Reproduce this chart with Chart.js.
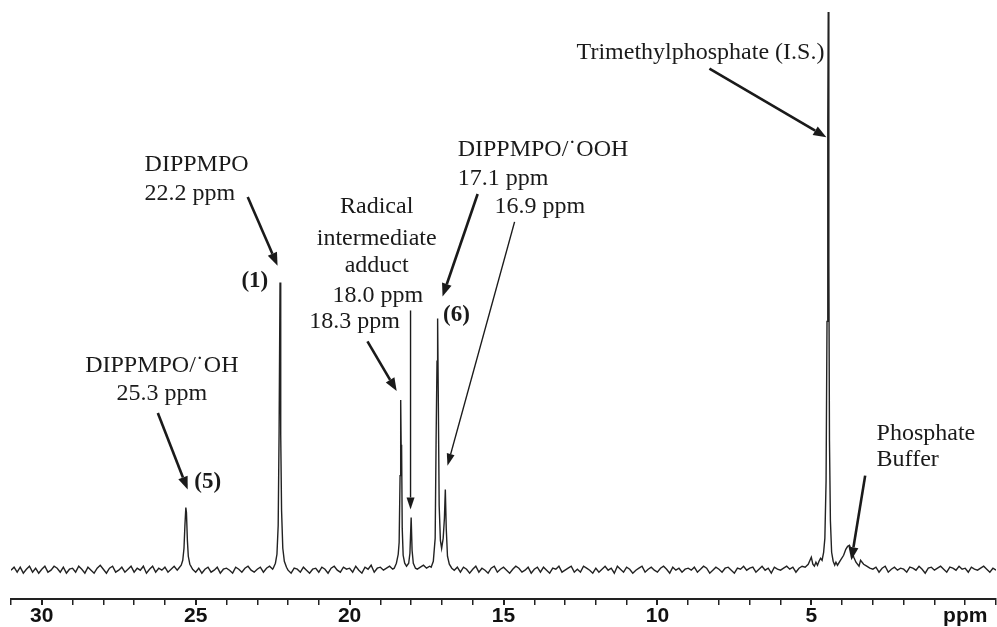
<!DOCTYPE html>
<html>
<head>
<meta charset="utf-8">
<script src="https://cdn.jsdelivr.net/npm/chart.js@4.4.1/dist/chart.umd.min.js"></script>
<style>
  html, body { margin: 0; padding: 0; background: #fff; }
  #wrap { width: 997px; height: 627px; position: relative; }
</style>
</head>
<body>
<div id="wrap"><canvas id="nmrChart"></canvas></div>
<script>
// 31P NMR spectrum, chemical shift in ppm, intensity in arbitrary units (baseline = 0)

// baseline noise, one value every 0.1 ppm from 31.0 down to -1.0 ppm
const noiseStart = 31.0;
const noiseStep = 0.1;
const noise = [
    0, 3, -2, 3, -3, 1, 4, -2, 2, -3,
    1, 4, -2, 0, 4, 2, -2, 3, -3, 1,
    2, -2, 4, 1, -3, 3, 0, -3, 2, 5,
    1, -3, 2, 4, -2, 0, 3, -2, 1, 4,
    -2, 2, 0, 4, -3, 1, 4, -2, 2, 0,
    3, -2, 1, 4, 0, 2, 5, 3, 2, 1,
    -2, 2, -3, 1, 3, -2, 0, 3, -3, 1,
    2, 0, -3, 3, 1, -2, 2, 4, 0, -2,
    1, 3, -2, 2, 4, 1, 3, 5, 4, 2,
    0, -3, 2, 1, -2, 3, 0, -3, 1, 2,
    -2, 3, 1, -3, 2, 4, 0, -2, 3, 1,
    2, -2, 4, 0, -3, 3, 1, 5, -2, 2,
    3, 0, 2, 4, 1, -2, 3, 2, 4, 3,
    2, 4, 1, 3, 5, 2, 4, 3, 4, 2,
    2, 3, 1, 4, 0, 3, -2, 3, 1, -3,
    1, 4, -2, 2, 0, -3, 2, 4, -2, 1,
    3, 0, -3, 1, 4, 2, -2, 0, 3, -3,
    1, 3, -2, 3, 0, -3, 2, 1, 4, -2,
    0, 2, 4, -2, 1, -2, 4, 2, 0, -3,
    2, -2, 1, 4, 0, 2, -3, 4, 1, -2,
    3, 1, -3, 0, 2, 4, -2, 1, 3, 0,
    -2, 2, 4, 1, -3, 3, 0, 2, -2, 1,
    2, 0, 3, -2, 1, 4, 2, -3, 0, 3,
    1, -2, 2, 3, 0, -3, 2, 1, 4, 0,
    2, 3, -2, 1, 4, 0, 2, -3, 3, 1,
    0, 2, 4, 1, 3, -2, 2, 4, 3, 6,
    13, 6, 8, 5, 9, 12, 10, 18, 40, 20,
    10, 14, 18, 20, 19, 15, 10, 6, 4, 2,
    1, 3, -2, 2, 4, -2, 1, 3, 0, 2,
    1, -2, 3, 2, 0, 4, 1, -3, 2, 3,
    0, 2, 4, 1, -2, 3, 2, 0, 4, 1,
    2, -2, 3, 1, 0, 2, 4, 1, -2, 2, 0
];

// resonances: [ppm, intensity]
const peakOH = [
    [25.55, 2], [25.47, 5], [25.42, 10], [25.38, 22], [25.35, 45], [25.32, 63],
    [25.30, 58], [25.27, 30], [25.24, 14], [25.19, 6], [25.12, 2]
];
const peakDIPPMPO = [
    [22.48, 2], [22.41, 7], [22.36, 16], [22.32, 45], [22.29, 140], [22.26, 289],
    [22.245, 141], [22.23, 136], [22.21, 60], [22.17, 22], [22.12, 9], [22.05, 3]
];
const peakRadical = [
    [18.55, 2], [18.48, 7], [18.42, 16], [18.39, 28], [18.36, 95], [18.34, 171],
    [18.325, 126], [18.31, 122], [18.29, 42], [18.26, 15], [18.21, 7], [18.15, 4],
    [18.08, 7], [18.04, 17], [18.00, 53], [17.97, 20], [17.93, 7], [17.86, 2]
];
const peakOOH = [
    [17.35, 3], [17.28, 9], [17.22, 32], [17.19, 130], [17.16, 210], [17.14, 253],
    [17.12, 180], [17.09, 65], [17.05, 30], [17.01, 22], [16.96, 32], [16.92, 52],
    [16.89, 81], [16.86, 42], [16.82, 14], [16.76, 6], [16.68, 2]
];
const peakTMP = [
    [4.95, 6], [4.90, 4], [4.85, 8], [4.80, 5], [4.75, 9], [4.70, 12], [4.65, 10],
    [4.60, 18], [4.56, 32], [4.52, 90], [4.49, 250], [4.47, 311], [4.46, 450],
    [4.45, 561], [4.43, 310], [4.41, 130], [4.38, 50], [4.34, 18], [4.29, 9],
    [4.24, 5], [4.20, 8], [4.15, 5], [4.05, 10], [3.95, 15], [3.88, 21], [3.82, 24],
    [3.76, 25], [3.70, 20], [3.62, 13], [3.55, 8], [3.45, 4]
];
const peaks = [peakOH, peakDIPPMPO, peakRadical, peakOOH, peakTMP];

// axis ticks: labelled every 5 ppm, unit label at 0
const majorTicks = [30, 25, 20, 15, 10, 5];

// annotations, placed in data units [ppm, intensity]
const notes = [
    { text: 'DIPPMPO/\u02D9OH', at: [26.1, 205], align: 'center' },
    { text: '25.3 ppm', at: [26.1, 177], align: 'center' },
    { text: '(5)', at: [24.61, 89], align: 'center', bold: true },
    { text: 'DIPPMPO', at: [26.66, 407], align: 'left' },
    { text: '22.2 ppm', at: [26.66, 378], align: 'left' },
    { text: '(1)', at: [23.08, 291], align: 'center', bold: true },
    { text: 'Radical', at: [19.12, 365], align: 'center' },
    { text: 'intermediate', at: [19.12, 333], align: 'center' },
    { text: 'adduct', at: [19.12, 306], align: 'center' },
    { text: '18.0 ppm', at: [19.08, 276], align: 'center' },
    { text: '18.3 ppm', at: [19.84, 250], align: 'center' },
    { text: '(6)', at: [16.53, 256], align: 'center', bold: true },
    { text: 'DIPPMPO/\u02D9OOH', at: [16.49, 423], align: 'left' },
    { text: '17.1 ppm', at: [16.49, 393], align: 'left' },
    { text: '16.9 ppm', at: [15.29, 365], align: 'left' },
    { text: 'Trimethylphosphate (I.S.)', at: [8.60, 520], align: 'center' },
    { text: 'Phosphate', at: [2.88, 137], align: 'left' },
    { text: 'Buffer', at: [2.88, 111], align: 'left' }
];
const arrows = [
    { from: [26.23, 158], to: [25.26, 81], thin: false },
    { from: [23.31, 375], to: [22.34, 306], thin: false },
    { from: [19.42, 230], to: [18.47, 180], thin: false },
    { from: [18.02, 261], to: [18.02, 61], thin: true },
    { from: [15.84, 378], to: [16.98, 275], thin: false },
    { from: [14.64, 350], to: [16.82, 105], thin: true },
    { from: [8.31, 504], to: [4.51, 435], thin: false },
    { from: [3.25, 95], to: [3.70, 10], thin: false }
];

// merge baseline noise with the resonances
function buildSpectrum() {
    const windows = peaks.map(p => [p[p.length - 1][0], p[0][0]]);
    const pts = [];
    noise.forEach((v, i) => {
        const x = +(noiseStart - i * noiseStep).toFixed(2);
        const inside = windows.some(w => x >= w[0] && x <= w[1]);
        if (!inside) pts.push({ x: x, y: v });
    });
    peaks.forEach(p => p.forEach(d => pts.push({ x: d[0], y: d[1] })));
    pts.sort((a, b) => b.x - a.x);
    return pts;
}

function drawArrow(c, x1, y1, x2, y2, thin) {
    const ang = Math.atan2(y2 - y1, x2 - x1);
    const headLen = thin ? 12 : 13;
    const headW = thin ? 4 : 5;
    const bx = x2 - headLen * Math.cos(ang);
    const by = y2 - headLen * Math.sin(ang);
    c.beginPath();
    c.moveTo(x1, y1);
    c.lineTo(bx, by);
    c.lineWidth = thin ? 1.4 : 2.6;
    c.stroke();
    c.beginPath();
    c.moveTo(x2, y2);
    c.lineTo(bx + headW * Math.sin(ang), by - headW * Math.cos(ang));
    c.lineTo(bx - headW * Math.sin(ang), by + headW * Math.cos(ang));
    c.closePath();
    c.fill();
}

const annotationPlugin = {
    id: 'nmrNotes',
    afterDraw(chart) {
        const c = chart.ctx;
        const xs = chart.scales.x;
        const ys = chart.scales.y;
        c.save();
        c.fillStyle = '#1a1a1a';
        c.strokeStyle = '#1a1a1a';
        c.textBaseline = 'middle';
        notes.forEach(n => {
            c.font = n.bold ? 'bold 23px "Liberation Serif", "Times New Roman", serif'
                            : '24px "Liberation Serif", "Times New Roman", serif';
            c.textAlign = n.align;
            c.fillText(n.text, xs.getPixelForValue(n.at[0]), ys.getPixelForValue(n.at[1]));
        });
        arrows.forEach(a => {
            drawArrow(c,
                xs.getPixelForValue(a.from[0]), ys.getPixelForValue(a.from[1]),
                xs.getPixelForValue(a.to[0]), ys.getPixelForValue(a.to[1]), a.thin);
        });
        c.restore();
    }
};

new Chart(document.getElementById('nmrChart'), {
    type: 'line',
    data: {
        datasets: [{
            data: buildSpectrum(),
            borderColor: '#222',
            borderWidth: 1.4,
            pointRadius: 0,
            tension: 0,
            fill: false
        }]
    },
    options: {
        responsive: true,
        maintainAspectRatio: false,
        animation: false,
        layout: { padding: { left: 11, right: 0, top: 0, bottom: 0 } },
        plugins: {
            legend: { display: false },
            tooltip: { enabled: false }
        },
        scales: {
            x: {
                type: 'linear',
                reverse: true,
                min: -1,
                max: 31,
                border: { display: true, color: '#222', width: 2 },
                grid: {
                    drawOnChartArea: false,
                    drawTicks: true,
                    tickLength: 6,
                    color: '#222',
                    lineWidth: ctx => (ctx.tick && majorTicks.includes(ctx.tick.value)) ? 2 : 1.5
                },
                ticks: {
                    stepSize: 1,
                    autoSkip: false,
                    maxRotation: 0,
                    padding: 1,
                    color: '#111',
                    font: { family: '"Liberation Sans", Arial, sans-serif', weight: 'bold', size: 21, lineHeight: 0.95 },
                    callback: v => v === 0 ? 'ppm' : (majorTicks.includes(v) ? String(v) : '')
                }
            },
            y: {
                display: false,
                min: -29,
                max: 573
            }
        }
    },
    plugins: [annotationPlugin]
});
</script>
</body>
</html>
